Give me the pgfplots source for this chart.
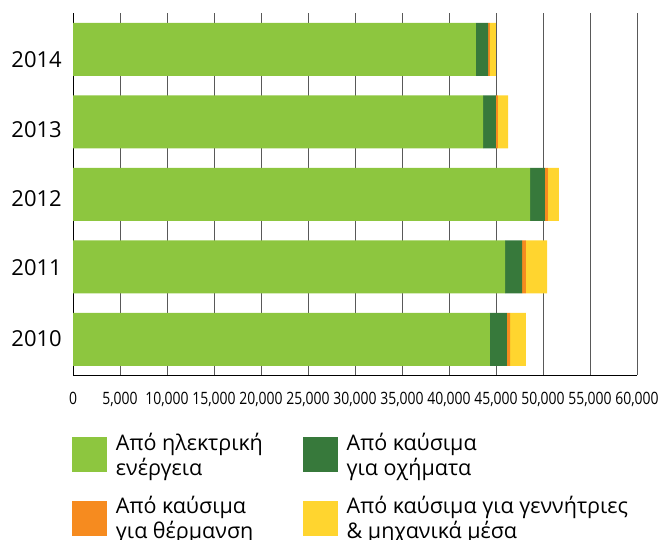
\documentclass[border=0pt]{standalone}
\usepackage{pgfplots}
\pgfplotsset{compat=1.18}
\usepackage{fontspec}
\setmainfont{Open Sans}
\definecolor{cElec}{HTML}{8DC63F}
\definecolor{cVeh}{HTML}{37793B}
\definecolor{cHeat}{HTML}{F68B1F}
\definecolor{cGen}{HTML}{FFD52F}
\begin{document}
\begin{tikzpicture}
\useasboundingbox (0,0) rectangle (662pt,-540pt);
\begin{axis}[
  at={(73pt,-13pt)}, anchor=north west,
  scale only axis, width=564pt, height=362pt,
  xbar stacked, bar width=0.73,
  xmin=0, xmax=60000, ymin=-0.49, ymax=4.5,
  xtick={0,5000,...,60000},
  scaled x ticks=false,
  xmajorgrids,
  major grid style={draw=black!65, line width=0.9pt},
  axis x line*=bottom, axis y line*=left,
  axis line style={-, draw=black, line width=0.9pt},
  major tick length=0pt,
  ytick={0.014,0.993,1.938,2.89,3.855},
  yticklabels={2010,2011,2012,2013,2014},
  yticklabel style={font=\fontsize{22}{22}\selectfont, anchor=east, inner sep=0pt, xshift=-11pt},
  xticklabel={\scalebox{0.82}[1]{\pgfmathprintnumber[assume math mode=true, 1000 sep={,}]{\tick}}},
  xticklabel style={font=\fontsize{17}{17}\selectfont, anchor=north, inner sep=0pt, yshift=-17pt},
  legend style={at={(-0.0018,-0.1162)}, anchor=north west, draw=none, inner sep=0pt, outer sep=0pt,
    font=\fontsize{21.5}{25}\selectfont, column sep=0pt,
    nodes={inner sep=0pt}},
  legend columns=2,
  legend cell align=left,
  legend image code/.code={\fill[#1] (0pt,-23.2pt) rectangle (35pt,11.8pt); \path[draw=none,fill=none] (0pt,-31.75pt) rectangle (44pt,31.75pt);},
]
\addplot[fill=cElec, draw=none] coordinates {(44360,0) (45960,1) (48620,2) (43620,3) (42870,4)};
\addlegendentry{\begin{tabular}{@{}p{186.7pt}@{}}Από ηλεκτρική\\ενέργεια\end{tabular}}
\addplot[fill=cVeh, draw=none] coordinates {(1810,0) (1810,1) (1590,2) (1380,3) (1280,4)};
\addlegendentry{\begin{tabular}{@{}l@{}}Από καύσιμα\\για οχήματα\end{tabular}}
\addplot[fill=cHeat, draw=none] coordinates {(320,0) (420,1) (320,2) (210,3) (210,4)};
\addlegendentry{\begin{tabular}{@{}p{186.7pt}@{}}Από καύσιμα\\για θέρμανση\end{tabular}}
\addplot[fill=cGen, draw=none] coordinates {(1700,0) (2240,1) (1170,2) (1070,3) (640,4)};
\addlegendentry{\begin{tabular}{@{}l@{}}Από καύσιμα για γεννήτριες\\\& μηχανικά μέσα\end{tabular}}
\end{axis}
\end{tikzpicture}
\end{document}
